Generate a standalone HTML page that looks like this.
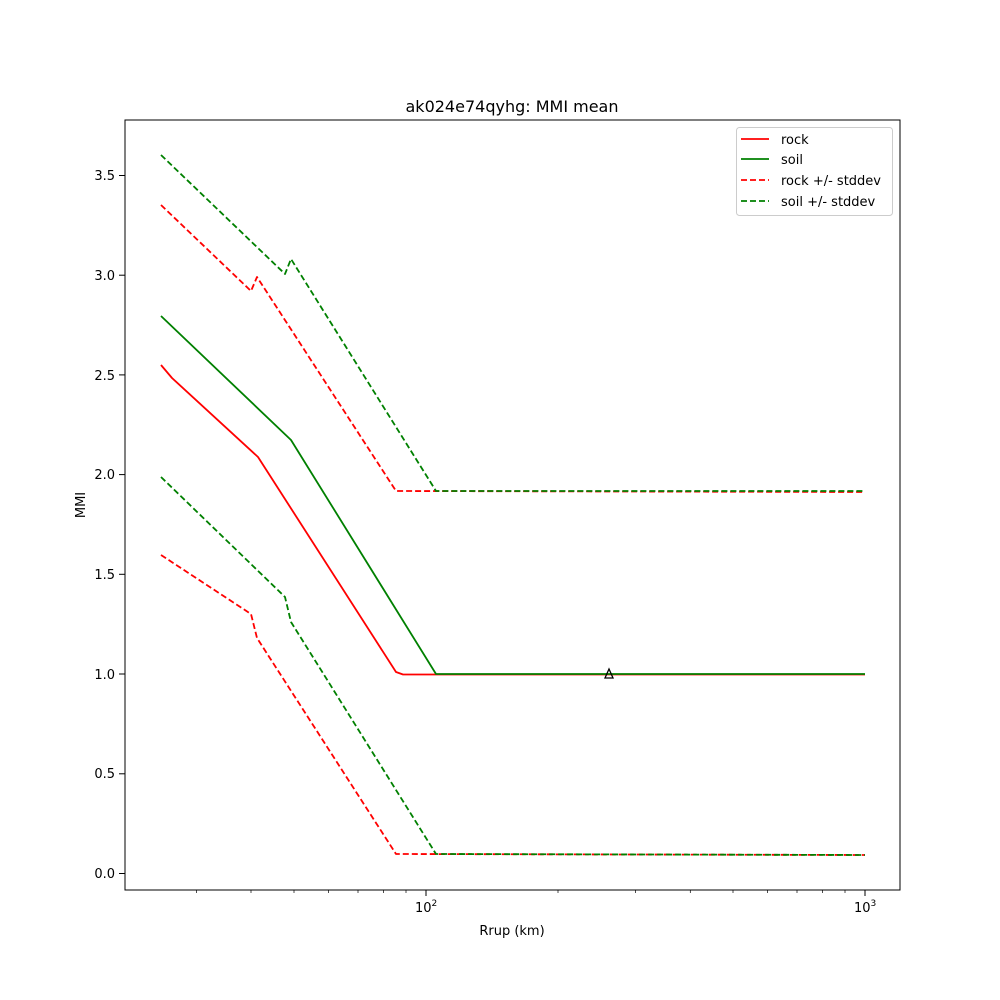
<!DOCTYPE html>
<html><head><meta charset="utf-8"><style>body{margin:0;background:#fff}svg{display:block}text{font-family:"DejaVu Sans","Liberation Sans",sans-serif;fill:#000}</style></head><body>
<svg width="1000" height="1000" viewBox="0 0 1000 1000">
<rect width="1000" height="1000" fill="#fff"/>
<text x="512" y="112" font-size="16" text-anchor="middle">ak024e74qyhg: MMI mean</text>
<g fill="none" stroke-width="1.8" stroke-linejoin="round">
<polyline stroke="red" stroke-dasharray="6,3" points="161,205 251,291 257,277 396,491 865,492"/>
<polyline stroke="red" stroke-dasharray="6,3" points="161,555 251,614 257,638 396,854 865,855"/>
<polyline stroke="green" stroke-dasharray="6,3" points="161,155 285,274 291,259 436,491 865,491"/>
<polyline stroke="green" stroke-dasharray="6,3" points="161,477 285,597 291,622 436,854 865,855"/>
<polyline stroke="red" points="161,365 172,378 258,457 396,672 403,674.5 865,674.5"/>
<polyline stroke="green" points="161,316 291,440 436,674 865,674"/>
</g>
<polygon points="609,669 605,678 613,678" fill="none" stroke="#000" stroke-width="1.3"/>
<rect x="125" y="120" width="775" height="770" fill="none" stroke="#000" stroke-width="1"/>
<g stroke="#000" stroke-width="1">
<line x1="426" y1="890" x2="426" y2="896"/><line x1="865" y1="890" x2="865" y2="896"/>
<g stroke-width="0.7">
<line x1="196.5" y1="890" x2="196.5" y2="893"/><line x1="251" y1="890" x2="251" y2="893"/><line x1="294" y1="890" x2="294" y2="893"/><line x1="328.6" y1="890" x2="328.6" y2="893"/><line x1="358" y1="890" x2="358" y2="893"/><line x1="383.5" y1="890" x2="383.5" y2="893"/><line x1="406" y1="890" x2="406" y2="893"/>
<line x1="558" y1="890" x2="558" y2="893"/><line x1="635.5" y1="890" x2="635.5" y2="893"/><line x1="690.3" y1="890" x2="690.3" y2="893"/><line x1="733" y1="890" x2="733" y2="893"/><line x1="767.6" y1="890" x2="767.6" y2="893"/><line x1="797" y1="890" x2="797" y2="893"/><line x1="822.5" y1="890" x2="822.5" y2="893"/><line x1="845" y1="890" x2="845" y2="893"/>
</g>
<line x1="119" y1="873.5" x2="125" y2="873.5"/><line x1="119" y1="773.8" x2="125" y2="773.8"/><line x1="119" y1="674" x2="125" y2="674"/><line x1="119" y1="574.3" x2="125" y2="574.3"/><line x1="119" y1="474.6" x2="125" y2="474.6"/><line x1="119" y1="374.9" x2="125" y2="374.9"/><line x1="119" y1="275.2" x2="125" y2="275.2"/><line x1="119" y1="175.5" x2="125" y2="175.5"/>
</g>
<g font-size="13" text-anchor="end">
<text x="115" y="878">0.0</text><text x="115" y="778">0.5</text><text x="115" y="679">1.0</text><text x="115" y="579">1.5</text><text x="115" y="479">2.0</text><text x="115" y="380">2.5</text><text x="115" y="280">3.0</text><text x="115" y="180">3.5</text>
</g>
<text x="415" y="912" font-size="13">10<tspan font-size="9" dy="-6">2</tspan></text>
<text x="854" y="912" font-size="13">10<tspan font-size="9" dy="-6">3</tspan></text>
<text x="512" y="935" font-size="13" text-anchor="middle">Rrup (km)</text>
<text x="85" y="505" font-size="13" text-anchor="middle" transform="rotate(-90 85 505)">MMI</text>
<rect x="736.5" y="127.5" width="156" height="88" rx="3" fill="#fff" stroke="#ccc"/>
<g stroke-width="1.8">
<line x1="741" y1="139" x2="769" y2="139" stroke="red"/>
<line x1="741" y1="159" x2="769" y2="159" stroke="green"/>
<line x1="741" y1="180" x2="769" y2="180" stroke="red" stroke-dasharray="6,3"/>
<line x1="741" y1="201" x2="769" y2="201" stroke="green" stroke-dasharray="6,3"/>
</g>
<g font-size="13">
<text x="781" y="144">rock</text><text x="781" y="164">soil</text><text x="781" y="185">rock +/- stddev</text><text x="781" y="206">soil +/- stddev</text>
</g>
</svg>
</body></html>
